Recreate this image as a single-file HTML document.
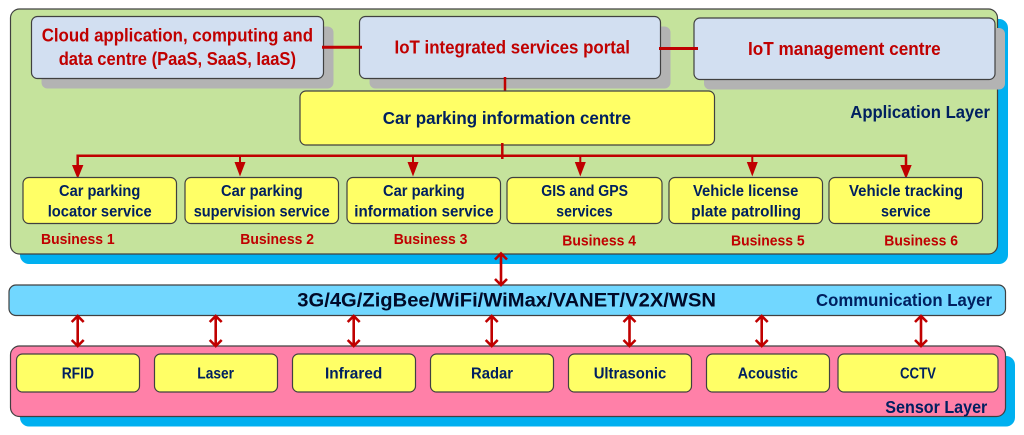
<!DOCTYPE html>
<html><head><meta charset="utf-8"><style>
html,body{margin:0;padding:0;background:#fff;width:1024px;height:435px;overflow:hidden}
svg{display:block;filter:blur(0.3px)}
text{font-family:"Liberation Sans",sans-serif;font-weight:bold}
.r{fill:#c00000}.n{fill:#002060}
.b{stroke:#404040;stroke-width:1.2}
.y{fill:#ffff66}.s{fill:#d2dff1}.g{fill:#b3b3b3}
.l{stroke:#c00000;fill:none}
.h{fill:#c00000}
</style></head><body>
<svg width="1024" height="435" viewBox="0 0 1024 435" xmlns="http://www.w3.org/2000/svg">
<rect x="20" y="19" width="988" height="245" rx="9" fill="#00b0f0"/>
<rect x="10.5" y="9" width="987" height="245" rx="9" fill="#c5e39c" class="b"/>
<rect x="41.5" y="26.5" width="292" height="62" rx="6" class="g"/>
<rect x="369.5" y="26.5" width="301" height="62" rx="6" class="g"/>
<rect x="704" y="28" width="301" height="61.5" rx="6" class="g"/>
<rect x="31.5" y="16.5" width="292" height="62" rx="6" class="s b"/>
<rect x="359.5" y="16.5" width="301" height="62" rx="6" class="s b"/>
<rect x="694" y="18" width="301" height="61.5" rx="6" class="s b"/>
<path d="M322 47.3H362M659 48.5H698" class="l" stroke-width="3"/>
<path d="M505 77V91" class="l" stroke-width="2.5"/>
<rect x="300" y="91" width="414.5" height="54" rx="6" class="y b"/>
<path d="M77.7 168V155.7H906V168M502.3 143V159" class="l" stroke-width="2.5"/>
<path d="M240 155V166M413 155V166M580.3 155V166M752.3 155V166" class="l" stroke-width="2"/>
<path d="M72 165H83.4L77.7 179ZM900.300 165H911.700L906 179ZM234.500 162H245.500L240 176.500ZM407.500 162H418.500L413 176.500ZM574.800 162H585.800L580.300 176.500ZM746.800 162H757.800L752.300 176.500Z" class="h"/>
<g class="y b">
<rect x="23" y="177.500" width="153.500" height="46" rx="6"/>
<rect x="185" y="177.500" width="153.500" height="46" rx="6"/>
<rect x="347" y="177.500" width="153.500" height="46" rx="6"/>
<rect x="507" y="177.500" width="155" height="46" rx="6"/>
<rect x="669" y="177.500" width="153.500" height="46" rx="6"/>
<rect x="829" y="177.500" width="153.500" height="46" rx="6"/>
</g>
<rect x="20" y="356" width="995" height="70.500" rx="9" fill="#00b0f0"/>
<rect x="10.500" y="346" width="995" height="70.500" rx="9" fill="#ff80a8" class="b"/>
<rect x="9" y="285" width="996.500" height="30.500" rx="7" fill="#71d7ff" class="b"/>
<g class="y b">
<rect x="16.500" y="354" width="123" height="38" rx="6"/>
<rect x="154.500" y="354" width="123" height="38" rx="6"/>
<rect x="292.500" y="354" width="123" height="38" rx="6"/>
<rect x="430.500" y="354" width="123" height="38" rx="6"/>
<rect x="568.500" y="354" width="123" height="38" rx="6"/>
<rect x="706.500" y="354" width="123" height="38" rx="6"/>
<rect x="838" y="354" width="160" height="38" rx="6"/>
</g>
<g class="l" stroke-width="2.6">
<path d="M501 254V284M495 259.500L501 253.500L507 259.500M495 279L501 285L507 279"/>
<path d="M77.700 316V346M71.700 322L77.700 316L83.700 322M71.700 340L77.700 346L83.700 340"/>
<path d="M215.700 316V346M209.700 322L215.700 316L221.700 322M209.700 340L215.700 346L221.700 340"/>
<path d="M353.700 316V346M347.700 322L353.700 316L359.700 322M347.700 340L353.700 346L359.700 340"/>
<path d="M491.700 316V346M485.700 322L491.700 316L497.700 322M485.700 340L491.700 346L497.700 340"/>
<path d="M629.500 316V346M623.500 322L629.500 316L635.500 322M623.500 340L629.500 346L635.500 340"/>
<path d="M761.700 316V346M755.700 322L761.700 316L767.700 322M755.700 340L761.700 346L767.700 340"/>
<path d="M921 316V346M915 322L921 316L927 322M915 340L921 346L927 340"/>
</g>
<g class="r" font-size="18">
<text x="41.700" y="41.500" textLength="271.300" lengthAdjust="spacingAndGlyphs">Cloud application, computing and</text>
<text x="58.700" y="65" textLength="237.300" lengthAdjust="spacingAndGlyphs">data centre (PaaS, SaaS, IaaS)</text>
<text x="394.500" y="53.500" textLength="235.500" lengthAdjust="spacingAndGlyphs">IoT integrated services portal</text>
<text x="748" y="55" textLength="192.700" lengthAdjust="spacingAndGlyphs">IoT management centre</text>
</g>
<g class="r" font-size="15">
<text x="41" y="244" textLength="73.700" lengthAdjust="spacingAndGlyphs">Business 1</text>
<text x="240.300" y="244" textLength="73.700" lengthAdjust="spacingAndGlyphs">Business 2</text>
<text x="393.700" y="244" textLength="73.700" lengthAdjust="spacingAndGlyphs">Business 3</text>
<text x="562.300" y="245.300" textLength="73.700" lengthAdjust="spacingAndGlyphs">Business 4</text>
<text x="731" y="245.300" textLength="73.700" lengthAdjust="spacingAndGlyphs">Business 5</text>
<text x="884.300" y="245.300" textLength="73.700" lengthAdjust="spacingAndGlyphs">Business 6</text>
</g>
<g class="n" font-size="17.500">
<text x="382.700" y="124" textLength="248.300" lengthAdjust="spacingAndGlyphs">Car parking information centre</text>
<text x="850.300" y="118" textLength="139.700" lengthAdjust="spacingAndGlyphs">Application Layer</text>
<text x="816" y="306" textLength="176" lengthAdjust="spacingAndGlyphs">Communication Layer</text>
<text x="885.300" y="413" textLength="102" lengthAdjust="spacingAndGlyphs">Sensor Layer</text>
</g>
<g class="n" font-size="15.500">
<text x="59" y="196" textLength="81.300" lengthAdjust="spacingAndGlyphs">Car parking</text>
<text x="47.700" y="216.700" textLength="104" lengthAdjust="spacingAndGlyphs">locator service</text>
<text x="221" y="196" textLength="81.700" lengthAdjust="spacingAndGlyphs">Car parking</text>
<text x="193.700" y="216.700" textLength="136" lengthAdjust="spacingAndGlyphs">supervision service</text>
<text x="383" y="196" textLength="81.700" lengthAdjust="spacingAndGlyphs">Car parking</text>
<text x="354.300" y="216.700" textLength="139.400" lengthAdjust="spacingAndGlyphs">information service</text>
<text x="541.300" y="196" textLength="86.700" lengthAdjust="spacingAndGlyphs">GIS and GPS</text>
<text x="556.300" y="216.700" textLength="56.400" lengthAdjust="spacingAndGlyphs">services</text>
<text x="693" y="196" textLength="105.300" lengthAdjust="spacingAndGlyphs">Vehicle license</text>
<text x="691.300" y="216.700" textLength="109.700" lengthAdjust="spacingAndGlyphs">plate patrolling</text>
<text x="849" y="196" textLength="114" lengthAdjust="spacingAndGlyphs">Vehicle tracking</text>
<text x="881" y="216.700" textLength="49.700" lengthAdjust="spacingAndGlyphs">service</text>
<text x="61.700" y="378.300" textLength="32.300" lengthAdjust="spacingAndGlyphs">RFID</text>
<text x="197.300" y="378.300" textLength="36.700" lengthAdjust="spacingAndGlyphs">Laser</text>
<text x="325" y="378.300" textLength="57.300" lengthAdjust="spacingAndGlyphs">Infrared</text>
<text x="471" y="378.300" textLength="42" lengthAdjust="spacingAndGlyphs">Radar</text>
<text x="593.700" y="378.300" textLength="72.600" lengthAdjust="spacingAndGlyphs">Ultrasonic</text>
<text x="737.700" y="378.300" textLength="60.300" lengthAdjust="spacingAndGlyphs">Acoustic</text>
<text x="900" y="378.300" textLength="36" lengthAdjust="spacingAndGlyphs">CCTV</text>
</g>
<text x="297.300" y="306.700" font-size="19.500" fill="#000a28" textLength="418.700" lengthAdjust="spacingAndGlyphs">3G/4G/ZigBee/WiFi/WiMax/VANET/V2X/WSN</text>
</svg>
</body></html>
